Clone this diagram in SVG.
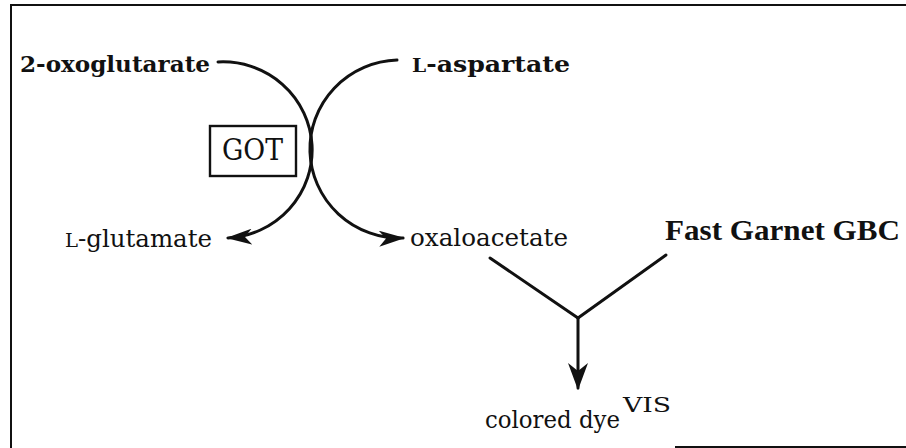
<svg xmlns="http://www.w3.org/2000/svg" width="906" height="448" viewBox="0 0 906 448">
  <style>
    .lbl { font-family: "DejaVu Serif", "Liberation Serif", serif; fill: #111; }
    .b { font-weight: bold; }
    .sc { font-size: 0.8em; }
    .frame { stroke: #111; stroke-width: 2; fill: none; }
    .wire { stroke: #111; stroke-width: 3; fill: none; stroke-linecap: round; }
  </style>
  <defs>
    <marker id="head" viewBox="0 0 26 16" refX="24" refY="8" markerWidth="26" markerHeight="16" markerUnits="userSpaceOnUse" orient="auto">
      <path d="M0,0 L26,8 L0,16 L7,8 z" fill="#111"/>
    </marker>
    <marker id="headDown" viewBox="0 0 27 20" refX="25" refY="10" markerWidth="27" markerHeight="20" markerUnits="userSpaceOnUse" orient="auto">
      <path d="M0,0 L27,10 L0,20 L8,10 z" fill="#111"/>
    </marker>
  </defs>

  <!-- frame -->
  <g id="frame">
    <path class="frame" d="M11,448 L11,5 L906,5"/>
    <path class="frame" d="M675,447 L906,447"/>
  </g>

  <!-- connectors -->
  <g id="connectors">
    <!-- 2-oxoglutarate to L-glutamate -->
    <path class="wire" d="M218,62 A89,88 0 0 1 228,238" marker-end="url(#head)"/>
    <!-- L-aspartate to oxaloacetate -->
    <path class="wire" d="M397,60 A89,88 0 0 0 403,238" marker-end="url(#head)"/>
    <!-- coupling to dye -->
    <path class="wire" d="M490,258 L578,318"/>
    <path class="wire" d="M666,255 L578,318"/>
    <path class="wire" d="M578,318 L578,388" marker-end="url(#headDown)"/>
  </g>

  <g id="n-oxoglutarate">
    <text class="lbl b" x="20" y="72" font-size="22" textLength="190" lengthAdjust="spacingAndGlyphs">2-oxoglutarate</text>
  </g>
  <g id="n-aspartate">
    <text class="lbl b" x="412" y="72" font-size="22" textLength="158" lengthAdjust="spacingAndGlyphs"><tspan class="sc">L</tspan>-aspartate</text>
  </g>
  <g id="n-got">
    <rect x="210" y="126" width="86" height="50" fill="none" stroke="#111" stroke-width="2.4"/>
    <text class="lbl" x="222" y="160" font-size="29" textLength="61" lengthAdjust="spacingAndGlyphs">GOT</text>
  </g>
  <g id="n-glutamate">
    <text class="lbl" x="65" y="247" font-size="24" textLength="147" lengthAdjust="spacingAndGlyphs"><tspan class="sc">L</tspan>-glutamate</text>
  </g>
  <g id="n-oxaloacetate">
    <text class="lbl" x="410" y="246" font-size="24" textLength="158" lengthAdjust="spacingAndGlyphs">oxaloacetate</text>
  </g>
  <g id="n-fastgarnet">
    <text class="b" x="665" y="240" font-size="30" textLength="235" lengthAdjust="spacingAndGlyphs" style="font-family:'Liberation Serif',serif;fill:#111">Fast Garnet GBC</text>
  </g>
  <g id="n-dye">
    <text class="lbl" x="485" y="428" font-size="24" textLength="135" lengthAdjust="spacingAndGlyphs">colored dye</text>
    <text class="lbl" x="623" y="412" font-size="20" textLength="48" lengthAdjust="spacingAndGlyphs">VIS</text>
  </g>
</svg>
